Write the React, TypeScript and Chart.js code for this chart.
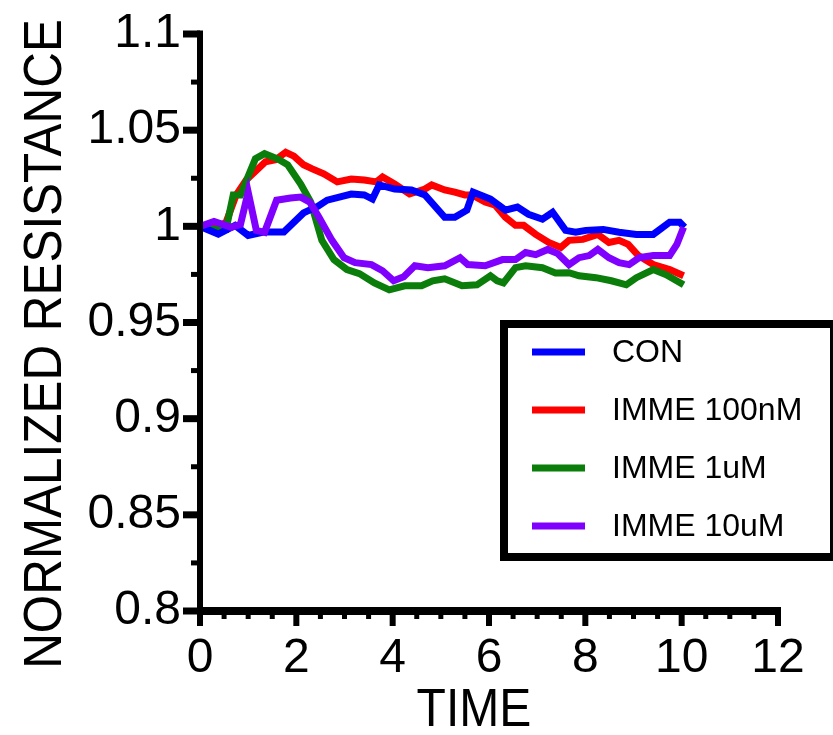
import React, { useEffect, useRef } from "react";
import { Chart, registerables } from "chart.js";

Chart.register(...registerables);

const seriesNames = ["CON", "IMME 100nM", "IMME 1uM", "IMME 10uM"];
const seriesColors = ["#0000ff", "#ff0000", "#0b7d0b", "#8000ff"];

const conTime = [0, 0.38, 0.73, 1.0, 1.32, 1.74, 2.15, 2.45, 2.64, 3.14, 3.41, 3.58, 3.72, 4.04, 4.39, 4.67, 5.08, 5.29, 5.54, 5.67, 6.03, 6.34, 6.59, 6.82, 7.11, 7.32, 7.59, 7.8, 8.01, 8.37, 8.7, 9.06, 9.41, 9.75, 9.96, 10.06];
const conValues = [1.0, 0.996, 1.0005, 0.9953, 0.997, 0.997, 1.007, 1.0105, 1.0136, 1.0168, 1.0163, 1.0142, 1.0215, 1.0194, 1.0189, 1.0163, 1.0047, 1.0047, 1.0084, 1.0178, 1.0142, 1.0084, 1.01, 1.0063, 1.0037, 1.0073, 0.9979, 0.9969, 0.9979, 0.9984, 0.9969, 0.9958, 0.9958, 1.0021, 1.0021, 0.9995];

const imme100nMTime = [0, 0.3, 0.54, 0.75, 0.96, 1.36, 1.57, 1.78, 1.95, 2.15, 2.32, 2.57, 2.85, 3.14, 3.41, 3.66, 3.79, 4.04, 4.35, 4.67, 4.81, 5.08, 5.29, 5.5, 5.65, 5.92, 6.13, 6.34, 6.55, 6.72, 6.97, 7.24, 7.49, 7.66, 7.95, 8.26, 8.49, 8.7, 8.89, 9.1, 9.41, 9.75, 10.04];
const imme100nMValues = [1.0, 0.999, 1.002, 1.0163, 1.0241, 1.0336, 1.0346, 1.0385, 1.0365, 1.032, 1.03, 1.0273, 1.0231, 1.0246, 1.0241, 1.0231, 1.0257, 1.022, 1.0168, 1.0194, 1.0215, 1.0189, 1.0178, 1.0163, 1.0163, 1.0126, 1.011, 1.0047, 1.0005, 1.0005, 0.9958, 0.9916, 0.989, 0.9927, 0.9932, 0.9958, 0.9916, 0.9927, 0.9906, 0.9848, 0.9801, 0.9775, 0.9743];

const imme1uMTime = [0, 0.27, 0.54, 0.69, 0.84, 1.15, 1.34, 1.61, 1.82, 2.09, 2.3, 2.53, 2.78, 3.05, 3.31, 3.62, 3.93, 4.25, 4.6, 4.83, 5.08, 5.44, 5.75, 6.03, 6.17, 6.3, 6.55, 6.76, 7.11, 7.38, 7.66, 7.87, 8.22, 8.54, 8.85, 9.06, 9.41, 9.68, 10.04];
const imme1uMValues = [1.0, 0.9984, 0.9984, 1.0163, 1.0163, 1.0351, 1.0378, 1.0351, 1.032, 1.022, 1.0126, 0.9927, 0.9827, 0.9775, 0.9754, 0.9706, 0.967, 0.9691, 0.9691, 0.9717, 0.9727, 0.9691, 0.9696, 0.9743, 0.9717, 0.9706, 0.9785, 0.9795, 0.9785, 0.9758, 0.9759, 0.9743, 0.9733, 0.9717, 0.9696, 0.9733, 0.9775, 0.9748, 0.9696];

const imme10uMTime = [0, 0.29, 0.65, 0.84, 1.0, 1.17, 1.34, 1.59, 1.88, 2.09, 2.28, 2.47, 2.74, 2.99, 3.22, 3.56, 3.79, 4.02, 4.23, 4.46, 4.73, 5.08, 5.4, 5.56, 5.92, 6.28, 6.55, 6.76, 6.97, 7.22, 7.43, 7.66, 7.87, 8.08, 8.26, 8.49, 8.7, 8.91, 9.12, 9.41, 9.75, 9.9, 10.04];
const imme10uMValues = [1.0, 1.0025, 0.9995, 1.001, 1.0178, 0.9979, 0.9969, 1.0136, 1.0147, 1.0152, 1.0126, 1.0047, 0.9927, 0.9837, 0.9811, 0.9801, 0.9769, 0.9717, 0.9738, 0.9795, 0.9785, 0.9795, 0.9837, 0.9801, 0.9795, 0.9827, 0.9827, 0.9864, 0.9853, 0.988, 0.9858, 0.9801, 0.9837, 0.9848, 0.988, 0.9837, 0.9811, 0.9801, 0.9837, 0.9848, 0.9848, 0.9906, 0.9995];

const xMajorTicks = [0, 2, 4, 6, 8, 10, 12];
const yMajorTicks = [0.8, 0.85, 0.9, 0.95, 1.0, 1.05, 1.1];
const xMinorTicks = [0.5, 1, 1.5, 2.5, 3, 3.5, 4.5, 5, 5.5, 6.5, 7, 7.5, 8.5, 9, 9.5, 10.5, 11, 11.5];
const yMinorTicks = [0.825, 0.875, 0.925, 0.975, 1.025, 1.075];

const xTitle = "TIME";
const yTitle = "NORMALIZED RESISTANCE";

const FONT = '"Liberation Sans", Arial, Helvetica, sans-serif';

function seg(ctx: CanvasRenderingContext2D, x1: number, y1: number, x2: number, y2: number) {
  ctx.beginPath();
  ctx.moveTo(x1, y1);
  ctx.lineTo(x2, y2);
  ctx.stroke();
}

const decorPlugin = {
  id: "decor",
  afterDraw(chart: any) {
    const ctx = chart.ctx as CanvasRenderingContext2D;
    const xs = chart.scales.x;
    const ys = chart.scales.y;
    const ax = xs.getPixelForValue(0);
    const ay = ys.getPixelForValue(0.8);
    const xEnd = xs.getPixelForValue(12);
    const yEnd = ys.getPixelForValue(1.1);
    ctx.save();
    ctx.strokeStyle = "#000";
    ctx.lineCap = "butt";
    // axis lines
    ctx.lineWidth = 6;
    seg(ctx, ax, yEnd - 3.5, ax, ay);
    ctx.lineWidth = 8;
    seg(ctx, ax - 3, ay, xEnd + 3, ay);
    // major ticks
    ctx.lineWidth = 7;
    yMajorTicks.forEach((v) => {
      const py = ys.getPixelForValue(v);
      seg(ctx, ax - 17, py, ax, py);
    });
    ctx.lineWidth = 6;
    xMajorTicks.forEach((v) => {
      const px = xs.getPixelForValue(v);
      seg(ctx, px, ay, px, ay + 15);
    });
    // minor ticks
    ctx.lineWidth = 5;
    xMinorTicks.forEach((v) => {
      const px = xs.getPixelForValue(v);
      seg(ctx, px, ay, px, ay + 8);
    });
    yMinorTicks.forEach((v) => {
      const py = ys.getPixelForValue(v);
      seg(ctx, ax - 9, py, ax, py);
    });
    // axis titles
    ctx.fillStyle = "#000";
    ctx.textAlign = "center";
    ctx.textBaseline = "middle";
    ctx.font = `54px ${FONT}`;
    ctx.save();
    ctx.translate(474, 711);
    ctx.scale(0.89, 1);
    ctx.fillText(xTitle, 0, 0);
    ctx.restore();
    ctx.save();
    ctx.translate(46, 344);
    ctx.rotate(-Math.PI / 2);
    ctx.scale(0.915, 1);
    ctx.fillText(yTitle, 0, 0);
    ctx.restore();
    // legend box
    ctx.fillStyle = "#fff";
    ctx.fillRect(504, 324, 340, 233);
    ctx.strokeStyle = "#000";
    ctx.lineWidth = 8;
    ctx.strokeRect(504, 324, 330, 233);
    ctx.font = `32px ${FONT}`;
    ctx.textAlign = "left";
    ctx.textBaseline = "middle";
    chart.data.datasets.forEach((ds: any, i: number) => {
      const y = 352 + i * 58;
      ctx.strokeStyle = ds.borderColor;
      ctx.lineWidth = 7;
      seg(ctx, 532, y, 585, y);
      ctx.fillStyle = "#000";
      ctx.fillText(ds.label, 612, y + 1);
    });
    ctx.restore();
  },
};

function toPoints(t: number[], v: number[]) {
  return t.map((x, i) => ({ x, y: v[i] }));
}

export default function App() {
  const canvasRef = useRef<HTMLCanvasElement | null>(null);

  useEffect(() => {
    if (!canvasRef.current) return;
    const times = [conTime, imme100nMTime, imme1uMTime, imme10uMTime];
    const values = [conValues, imme100nMValues, imme1uMValues, imme10uMValues];
    const orders = [1, 3, 2, 0];
    const chart = new Chart(canvasRef.current, {
      type: "line",
      data: {
        datasets: seriesNames.map((name, i) => ({
          label: name,
          data: toPoints(times[i], values[i]),
          borderColor: seriesColors[i],
          backgroundColor: seriesColors[i],
          borderWidth: 7,
          pointRadius: 0,
          tension: 0,
          fill: false,
          order: orders[i],
        })),
      },
      options: {
        animation: false,
        responsive: false,
        devicePixelRatio: 1,
        layout: { padding: { top: 34, right: 55, left: 0, bottom: 0 } },
        plugins: {
          legend: { display: false },
          tooltip: { enabled: false },
          title: { display: false },
        },
        scales: {
          x: {
            type: "linear",
            min: 0,
            max: 12,
            afterFit: (s: any) => {
              s.height = 124;
            },
            ticks: {
              stepSize: 2,
              color: "#000",
              font: { family: FONT, size: 48 },
              padding: 4,
              maxRotation: 0,
            },
            grid: {
              display: true,
              drawOnChartArea: false,
              drawTicks: true,
              tickLength: 15,
              tickColor: "rgba(0,0,0,0)",
              color: "rgba(0,0,0,0)",
            },
            border: { display: false },
          },
          y: {
            type: "linear",
            min: 0.8,
            max: 1.1,
            afterFit: (s: any) => {
              s.width = 200;
            },
            ticks: {
              stepSize: 0.05,
              color: "#000",
              font: { family: FONT, size: 48 },
              padding: 2,
              callback: (v: any) => String(parseFloat(Number(v).toFixed(3))),
            },
            grid: {
              display: true,
              drawOnChartArea: false,
              drawTicks: true,
              tickLength: 17,
              tickColor: "rgba(0,0,0,0)",
              color: "rgba(0,0,0,0)",
            },
            border: { display: false },
          },
        },
      },
      plugins: [decorPlugin],
    });
    return () => chart.destroy();
  }, []);

  return (
    <div style={{ position: "absolute", left: 0, top: 0, width: 833, height: 735, background: "#fff" }}>
      <canvas ref={canvasRef} width={833} height={735} style={{ display: "block" }} />
    </div>
  );
}
